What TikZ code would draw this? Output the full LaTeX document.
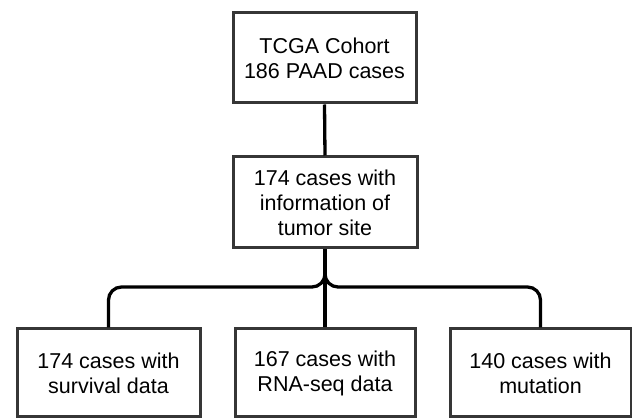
\documentclass[tikz,border=0pt]{standalone}
\usepackage{fontspec}
\setmainfont{Liberation Sans}
\definecolor{boxline}{HTML}{363636}
\begin{document}
\begin{tikzpicture}[x=1pt,y=-1pt,
  box/.style={draw=boxline, line width=3pt, fill=white, align=center, inner sep=0pt,
    font=\fontsize{21.5}{25}\selectfont},
  conn/.style={draw=black, line width=3.3pt}]
\useasboundingbox (0,0) rectangle (632,419);
\node[box, minimum width=183pt, minimum height=90pt] (top) at (324.5,58) {TCGA Cohort\\186 PAAD cases};
\node[box, minimum width=184pt, minimum height=91pt] (mid) at (325,202.5) {174 cases with\\information of\\tumor site};
\node[box, minimum width=183pt, minimum height=88pt] (bl) at (108.5,373) {174 cases with\\survival data};
\node[box, minimum width=180pt, minimum height=88pt] (bm) at (325,373) {167 cases with\\RNA-seq data};
\node[box, minimum width=181pt, minimum height=88pt] (br) at (540.5,373) {140 cases with\\mutation};
\coordinate (bus) at (325,287);
\begin{scope}[on background layer/.style={}]
\draw[conn] (top.south) -- (mid.north);
\draw[conn] (mid.south) -- (bm.north);
\draw[conn, rounded corners=13pt] (mid.south) |- (bl.north |- bus) -- (bl.north);
\draw[conn, rounded corners=13pt] (mid.south) |- (br.north |- bus) -- (br.north);
\end{scope}
\end{tikzpicture}
\end{document}
